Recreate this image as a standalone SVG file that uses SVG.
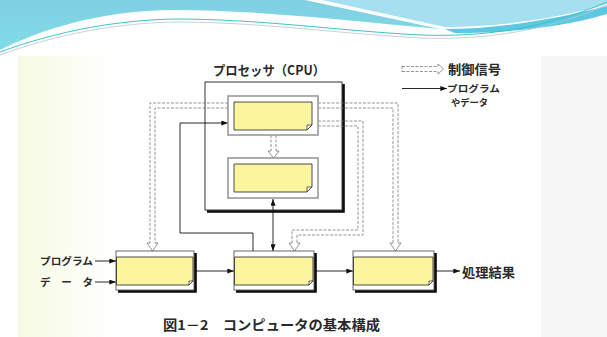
<svg xmlns="http://www.w3.org/2000/svg" width="607" height="337" viewBox="0 0 607 337">
<style>
.t{font-family:"Noto Sans CJK JP","Noto Sans",sans-serif;fill:#2a2a2a}
.b{font-weight:700}
.ctl{fill:none;stroke:#7a7a7a;stroke-width:0.8;stroke-dasharray:3 1.5}
.chev{fill:none;stroke:#7a7a7a;stroke-width:0.8}
.sol{fill:none;stroke:#111;stroke-width:0.9}
.frame{fill:#fff;stroke:#9a9a9a;stroke-width:1.6}
.yel{fill:#fbf59d;stroke:#222;stroke-width:0.8}
.fold{fill:#fff;stroke:#222;stroke-width:0.7}
.shadow{fill:none;stroke:#0a0a0a;stroke-width:2.6}
.bx{fill:#fff;stroke:#444;stroke-width:0.8}
</style>
<defs>
<marker id="ah" viewBox="0 0 8 6" refX="8" refY="3" markerWidth="7" markerHeight="5" orient="auto-start-reverse" markerUnits="userSpaceOnUse"><path d="M0,0 L8,3 L0,6 Z" fill="#111"/></marker>
<linearGradient id="gb" x1="0" y1="0" x2="0" y2="1"><stop offset="0" stop-color="#80cfe2"/><stop offset="1" stop-color="#7fdde8"/></linearGradient>
<linearGradient id="gl" x1="0" y1="0" x2="1" y2="0"><stop offset="0" stop-color="#f7fae2"/><stop offset="1" stop-color="#ffffff"/></linearGradient>
</defs>
<rect width="607" height="337" fill="#fff"/>
<!-- background tints -->
<rect x="18" y="56" width="95" height="281" fill="url(#gl)"/>
<rect x="541" y="56" width="66" height="281" fill="#f6f6f6"/>
<!-- banner -->
<g id="banner">
<path d="M0,0 H305 L440,29 C360,22 260,10 175,10 C100,10 40,30 0,50 Z" fill="url(#gb)"/>
<path d="M322,0 H607 V4 C560,18 500,27 445,27 Z" fill="#a6e0f0"/>
<path d="M445,29 C500,29 560,18 607,6 V14 C560,28 505,33 455,33 Z" fill="#5cc8e2"/>
<path d="M0,52 C60,30 120,20 175,19 C260,19 330,30 420,35 C500,38 560,22 607,2" fill="none" stroke="#3cc6c8" stroke-width="1"/>
<path d="M0,55 C60,33 120,23 175,22 C260,22 330,33 420,38 C500,41 560,25 607,5" fill="none" stroke="#b8c8cc" stroke-width="0.8"/>
</g>
<!-- CPU box -->
<g id="cpu">
<rect x="205" y="82" width="137" height="128" fill="#fff" stroke="#333" stroke-width="1"/>
<path d="M343.5,84 V211.5 H207" class="shadow" stroke-width="3"/>
<text x="269" y="75" class="t b" font-size="13" text-anchor="middle" textLength="112" lengthAdjust="spacingAndGlyphs">プロセッサ（CPU）</text>
</g>
<!-- connectors -->
<g id="connectors">
<!-- control signals -->
<path class="ctl" d="M228,103 H150 V243"/>
<path class="ctl" d="M228,108 H155 V243"/>
<path class="chev" d="M150,243 H147 L152.5,251 L158,243 H155"/>
<path class="ctl" d="M318,103 H398 V243"/>
<path class="ctl" d="M318,108 H393 V243"/>
<path class="chev" d="M393,243 H390 L395.5,251 L401,243 H398"/>
<path class="ctl" d="M318,121 H363 V235 H297 V243"/>
<path class="ctl" d="M318,126 H358 V230 H292 V243"/>
<path class="chev" d="M292,243 H289 L294.5,251 L300,243 H297"/>
<path class="ctl" d="M271,135 V151"/>
<path class="ctl" d="M276,135 V151"/>
<path class="chev" d="M271,151 H268 L273.5,158 L279,151 H276"/>
<!-- program / data -->
<path class="sol" d="M180,233 V123 H228" marker-end="url(#ah)"/>
<path class="sol" d="M180,233 H253 V251"/>
<path class="sol" d="M273,199 V251" marker-start="url(#ah)" marker-end="url(#ah)"/>
<path class="sol" d="M196,271 H234" marker-end="url(#ah)"/>
<path class="sol" d="M316,271 H353" marker-end="url(#ah)"/>
<path class="sol" d="M436,271 H460" marker-end="url(#ah)"/>
<path class="sol" d="M95,261 H116" marker-end="url(#ah)"/>
<path class="sol" d="M95,282 H116" marker-end="url(#ah)"/>
<!-- legend -->
<path class="ctl" d="M402,66.5 H438 M402,71.5 H438 M402,66 V72"/>
<path class="chev" d="M438,66.5 V64 L443.5,69 L438,74 V71.5"/>
<path class="sol" d="M402,88.5 H447" marker-end="url(#ah)"/>
</g>
<!-- CPU inner units -->
<g id="unit1">
<rect x="228" y="96" width="90" height="39" class="frame"/>
<path d="M234,102 H312 V125 L307,130 H234 Z" class="yel"/>
<path d="M312,125 H307 V130 Z" class="fold"/>
</g>
<g id="unit2">
<rect x="228" y="158" width="90" height="40" class="frame"/>
<path d="M234,164 H312 V187 L307,192 H234 Z" class="yel"/>
<path d="M312,187 H307 V192 Z" class="fold"/>
</g>
<!-- bottom units -->
<g id="unitA">
<rect x="116" y="251" width="78" height="39" class="bx"/>
<path d="M195.5,253 V291.5 H118" class="shadow"/>
<path d="M116.5,257 H193 V281 L189,285 H116.5 Z" class="yel"/>
<path d="M193,281 H189 V285 Z" class="fold"/>
</g>
<g id="unitB">
<rect x="234" y="251" width="80" height="39" class="bx"/>
<path d="M315.5,253 V291.5 H236" class="shadow"/>
<path d="M234.5,257 H313 V281 L309,285 H234.5 Z" class="yel"/>
<path d="M313,281 H309 V285 Z" class="fold"/>
</g>
<g id="unitC">
<rect x="353" y="251" width="81" height="39" class="bx"/>
<path d="M435.5,253 V291.5 H355" class="shadow"/>
<path d="M353.5,257 H433 V281 L429,285 H353.5 Z" class="yel"/>
<path d="M433,281 H429 V285 Z" class="fold"/>
</g>
<!-- labels -->
<g id="labels">
<text x="40" y="265" class="t b" font-size="10.5" textLength="53" lengthAdjust="spacingAndGlyphs">プログラム</text>
<text x="40" y="286" class="t b" font-size="10.5" textLength="53" lengthAdjust="spacing">データ</text>
<text x="462" y="276.5" class="t b" font-size="13" textLength="53" lengthAdjust="spacingAndGlyphs">処理結果</text>
<text x="448" y="73.5" class="t b" font-size="13" textLength="53" lengthAdjust="spacingAndGlyphs">制御信号</text>
<text x="447" y="91.5" class="t b" font-size="9.5" textLength="53" lengthAdjust="spacingAndGlyphs">プログラム</text>
<text x="451" y="105.5" class="t b" font-size="9.5" textLength="37" lengthAdjust="spacingAndGlyphs">やデータ</text>
<text x="163" y="330" class="t b" font-size="13.5" textLength="217" lengthAdjust="spacingAndGlyphs">図1－2　コンピュータの基本構成</text>
</g>
</svg>
